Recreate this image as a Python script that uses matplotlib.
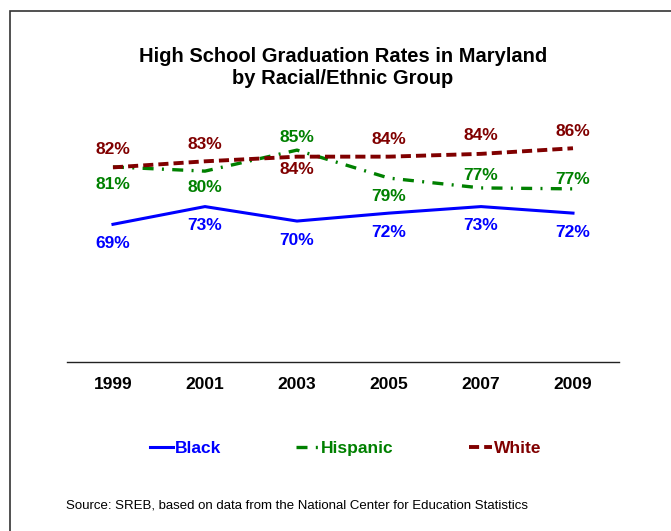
import matplotlib
matplotlib.use('Agg')
import matplotlib.pyplot as plt
from matplotlib.lines import Line2D
from matplotlib.patches import Rectangle

plt.rcParams['font.family'] = ['Liberation Sans', 'DejaVu Sans']

years = ['1999', '2001', '2003', '2005', '2007', '2009']
black = [69.5, 73.3, 70.2, 71.9, 73.3, 71.9]
hispanic = [81.8, 80.9, 85.4, 79.4, 77.3, 77.1]
white = [81.7, 83.0, 84.0, 84.0, 84.6, 85.8]
black_labels = ['69%', '73%', '70%', '72%', '73%', '72%']
hispanic_labels = ['81%', '80%', '85%', '79%', '77%', '77%']
white_labels = ['82%', '83%', '84%', '84%', '84%', '86%']

BLUE = '#0000ff'
GREEN = '#008000'
RED = '#800000'
HISP_DASH = (3.3, 2.5, 0.6, 2.5)
WHITE_DASH = (2.6, 1.3)

fig = plt.figure(figsize=(6.71, 5.31), dpi=100)
ax = fig.add_axes([0.0998, 0.3183, 0.8227, 0.5273])

x = list(range(len(years)))
ax.plot(x, black, color=BLUE, lw=2.2)
ax.plot(x, hispanic, color=GREEN, lw=2.4, dashes=HISP_DASH)
ax.plot(x, white, color=RED, lw=2.8, dashes=WHITE_DASH)

ax.set_xlim(-0.5, 5.5)
ax.set_ylim(40, 100)
ax.set_xticks(x)
ax.set_xticklabels(years, fontsize=12.5, fontweight='bold')
ax.set_yticks([])
ax.tick_params(axis='x', length=0, pad=10.5)
for s in ['top', 'left', 'right']:
    ax.spines[s].set_visible(False)
ax.spines['bottom'].set_color('#222222')
ax.spines['bottom'].set_linewidth(1.0)

# label offsets in pixels (negative = above)
white_off = [-18, -17, 13, -17, -18, -17]
hisp_off = [18, 16, -13, 18, -12, -9]
black_off = [19, 19, 19, 19, 19, 19]
for vals, labs, offs, col in [(white, white_labels, white_off, RED),
                              (hispanic, hispanic_labels, hisp_off, GREEN),
                              (black, black_labels, black_off, BLUE)]:
    for i, (v, lab, o) in enumerate(zip(vals, labs, offs)):
        ax.annotate(lab, (i, v), xytext=(0, -o * 0.72), textcoords='offset points',
                    ha='center', va='center', fontsize=12.5, fontweight='bold',
                    color=col)

fig.text(0.511, 1 - 56 / 531, 'High School Graduation Rates in Maryland',
         ha='center', va='center', fontsize=14.5, fontweight='bold')
fig.text(0.511, 1 - 79 / 531, 'by Racial/Ethnic Group',
         ha='center', va='center', fontsize=14.5, fontweight='bold')

handles = [Line2D([], [], color=BLUE, lw=2.2),
           Line2D([], [], color=GREEN, lw=2.4, dashes=HISP_DASH),
           Line2D([], [], color=RED, lw=2.8, dashes=WHITE_DASH)]
leg = fig.legend(handles, ['Black', 'Hispanic', 'White'], ncol=3, frameon=False,
                 loc='center', bbox_to_anchor=(0.515, 1 - 448 / 531),
                 prop={'size': 12.5, 'weight': 'bold'}, handlelength=1.35,
                 handletextpad=0.1, columnspacing=4.3, labelcolor='linecolor')

fig.text(66 / 671, 1 - 506 / 531,
         'Source: SREB, based on data from the National Center for Education Statistics',
         ha='left', va='center', fontsize=9.5)

fig.patches.append(Rectangle((10 / 671, -0.1), 1.2, 1 - 11 / 531 + 0.1,
                             transform=fig.transFigure, fill=False,
                             edgecolor='#333333', lw=1.2))

fig.savefig('out.png', dpi=100)
